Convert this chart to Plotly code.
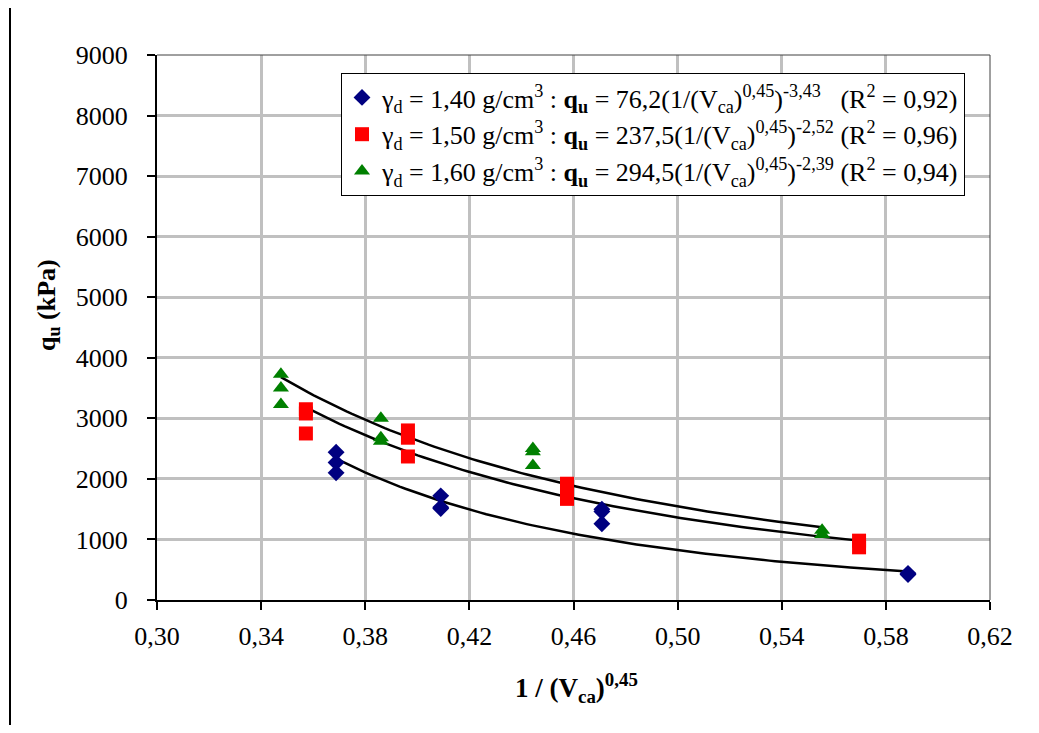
import numpy as np
import plotly.graph_objects as go

# ---- data ----
x_140 = [0.3688, 0.3688, 0.3688, 0.4090, 0.4090, 0.4090, 0.4709, 0.4709, 0.4709, 0.5885, 0.5885]
y_140 = [2440, 2270, 2100, 1720, 1530, 1510, 1500, 1460, 1260, 440, 420]

x_150 = [0.3572, 0.3572, 0.3572, 0.3964, 0.3964, 0.3964, 0.4575, 0.4575, 0.4575, 0.5697, 0.5697]
y_150 = [3150, 3080, 2750, 2800, 2680, 2370, 1920, 1800, 1670, 980, 870]

x_160 = [0.3476, 0.3476, 0.3476, 0.3860, 0.3860, 0.3860, 0.4444, 0.4444, 0.4444, 0.5555, 0.5555]
y_160 = [3730, 3500, 3230, 3000, 2680, 2620, 2500, 2450, 2220, 1150, 1080]

# power-law fits from legend: q = a * x^b
fit_a = [76.2, 237.5, 294.5]
fit_b = [-3.43, -2.52, -2.39]

names = [
    "γ<sub>d</sub> = 1,40 g/cm<sup>3</sup> : <b>q<sub>u</sub></b> = 76,2(1/(V<sub>ca</sub>)<sup>0,45</sup>)<sup>-3,43</sup>\u00a0\u00a0\u00a0(R<sup>2</sup> = 0,92)",
    "γ<sub>d</sub> = 1,50 g/cm<sup>3</sup> : <b>q<sub>u</sub></b> = 237,5(1/(V<sub>ca</sub>)<sup>0,45</sup>)<sup>-2,52</sup>\u00a0(R<sup>2</sup> = 0,96)",
    "γ<sub>d</sub> = 1,60 g/cm<sup>3</sup> : <b>q<sub>u</sub></b> = 294,5(1/(V<sub>ca</sub>)<sup>0,45</sup>)<sup>-2,39</sup>\u00a0(R<sup>2</sup> = 0,94)",
]

x_ticks = [0.30, 0.34, 0.38, 0.42, 0.46, 0.50, 0.54, 0.58, 0.62]
x_tick_labels = ["0,30", "0,34", "0,38", "0,42", "0,46", "0,50", "0,54", "0,58", "0,62"]
y_ticks = [0, 1000, 2000, 3000, 4000, 5000, 6000, 7000, 8000, 9000]

x_title = "<b>1 / (V<sub>ca</sub>)<sup>0,45</sup></b>"
y_title = "<b>q<sub>u</sub> (kPa)</b>"

FONT = "'Liberation Serif', Tinos, 'Times New Roman', Times, 'DejaVu Serif', serif"

fig = go.Figure()

series = [
    (x_140, y_140, dict(symbol="diamond", color="#000080", size=13)),
    (x_150, y_150, dict(symbol="square", color="#ff0000", size=14)),
    (x_160, y_160, dict(symbol="triangle-up", color="#008000", size=14)),
]

for i, (xs, ys, mk) in enumerate(series):
    xf = np.linspace(min(xs), max(xs), 100)
    yf = fit_a[i] * xf ** fit_b[i]
    fig.add_trace(go.Scatter(x=xf, y=yf, mode="lines",
                             line=dict(color="black", width=2.5),
                             showlegend=False, hoverinfo="skip"))

for i, (xs, ys, mk) in enumerate(series):
    fig.add_trace(go.Scatter(x=xs, y=ys, mode="markers", name=names[i],
                             marker=dict(symbol=mk["symbol"], color=mk["color"],
                                         size=mk["size"], line=dict(width=0))))

OFF = 8  # page body margin
W, H = 1023, 717
L = 157 - OFF
T = 55 - OFF
R = W - (990 - OFF)
B = H - (600 - OFF)
pw = W - L - R
ph = H - T - B

def px_x(px):
    return (px - OFF - L) / pw

def px_y(py):
    return (H - B - (py - OFF)) / ph

fig.update_layout(
    width=W, height=H,
    margin=dict(l=L, r=R, t=T, b=B, pad=0),
    paper_bgcolor="white", plot_bgcolor="white",
    font=dict(family=FONT, color="black", size=22),
    legend=dict(
        x=px_x(341), y=px_y(73), xanchor="left", yanchor="top",
        bgcolor="white", bordercolor="black", borderwidth=1,
        font=dict(family=FONT, size=26, color="black"),
        tracegroupgap=0, itemwidth=30,
    ),
    xaxis=dict(
        range=[0.30, 0.62], tickvals=x_ticks, ticktext=x_tick_labels,
        showgrid=True, gridcolor="#c0c0c0", gridwidth=3,
        showline=True, linecolor="black", linewidth=2,
        ticks="outside", ticklen=8, tickcolor="black", tickwidth=2,
        tickfont=dict(family=FONT, size=26), zeroline=False,
        ticklabelstandoff=4,
    ),
    yaxis=dict(
        range=[0, 9000], tickvals=y_ticks,
        showgrid=True, gridcolor="#c0c0c0", gridwidth=3,
        showline=True, linecolor="black", linewidth=2,
        ticks="outside", ticklen=8, tickcolor="black", tickwidth=2,
        tickfont=dict(family=FONT, size=26), zeroline=False,
        ticklabelstandoff=14,
    ),
    annotations=[
        dict(text=x_title, xref="paper", yref="paper", x=px_x(576), y=px_y(688),
             xanchor="center", yanchor="middle", showarrow=False,
             font=dict(family=FONT, size=27, color="black")),
        dict(text=y_title, xref="paper", yref="paper", x=px_x(48), y=px_y(305),
             xanchor="center", yanchor="middle", showarrow=False, textangle=-90,
             font=dict(family=FONT, size=26, color="black")),
    ],
    shapes=[
        dict(type="line", xref="paper", yref="paper", x0=0, x1=1, y0=1, y1=1,
             line=dict(color="#404040", width=1)),
        dict(type="line", xref="paper", yref="paper", x0=1, x1=1, y0=0, y1=1,
             line=dict(color="#404040", width=1)),
        dict(type="line", xref="paper", yref="paper",
             x0=px_x(10), x1=px_x(10),
             y0=px_y(733), y1=px_y(5),
             line=dict(color="black", width=2)),
    ],
)

fig.write_html("out.html")
